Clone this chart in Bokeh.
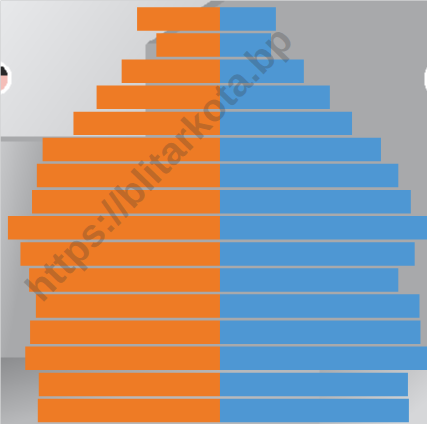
import numpy as np
from bokeh.plotting import figure
from bokeh.models import Range1d
from bokeh.core.properties import value
from bokeh.embed import file_html
from bokeh.resources import INLINE

# ---- data (top row to bottom row) ----
age_groups = ["75+", "70-74", "65-69", "60-64", "55-59", "50-54", "45-49", "40-44",
              "35-39", "30-34", "25-29", "20-24", "15-19", "10-14", "5-9", "0-4"]
left_values = [86, 66, 102, 128, 152, 184, 190, 195, 220, 207, 198, 191, 197, 202, 188, 189]
right_values = [58, 53, 87, 114, 137, 167, 185, 198, 218, 202, 185, 207, 208, 217, 195, 196]
watermark = "https://blitarkota.bp"

ORANGE = "#EE7B25"
BLUE = "#4E97D3"

n = len(age_groups)
ypos = [n - 1 - i for i in range(n)]

# ---- decorative background (reference-pixel grid) ----
W, H = 443, 440
yy, xx = np.mgrid[0:H, 0:W].astype(float)
base = np.array([168, 169, 171], float)
img = np.ones((H, W, 3)) * base

def lerp(c1, c2, t):
    t = np.clip(t, 0, 1)[..., None]
    return np.array(c1, float) * (1 - t) + np.array(c2, float) * t

# top-left light panel
light_mask = (yy < 141) & (xx < np.maximum(218 - 1.5 * yy, 150))
lt = lerp([232, 233, 235], [206, 207, 209], (xx / 150) * 0.6 + (yy / 140) * 0.4)
img[light_mask] = lt[light_mask]
# shadow band along fold
shadow = (yy < 45) & (xx >= 218 - 1.5 * yy) & (xx < 232 - 1.5 * yy)
img[shadow] = [150, 151, 153]
# left strip gradient
lmask = (yy >= 146) & (yy < 370)
lg = lerp([200, 201, 203], base, xx / 50 + (yy - 146) / 260)
img[lmask] = lg[lmask]
# bottom-left dark band
bmask = (yy >= 370)
bg = lerp([140, 141, 143], [184, 185, 187], (yy - 370) / 70 + xx / 300)
img[bmask] = bg[bmask]
# bottom-right light
rmask = (yy >= 372) & (xx > 330)
rg = lerp(base, [214, 215, 217], ((xx - 330) / 113) * 0.7 + ((yy - 372) / 68) * 0.5)
img[rmask] = rg[rmask]
# left edge badge
d = np.sqrt((xx + 8) ** 2 + (yy - 80) ** 2)
img[(d < 19)] = [255, 255, 255]
inner = d < 15
img[inner & (yy < 78)] = [40, 40, 40]
img[inner & (yy >= 78)] = [244, 190, 184]
# right edge white mark
d2 = np.sqrt(((xx - 449) / 10) ** 2 + ((yy - 81) / 16) ** 2)
img[d2 < 1] = [255, 255, 255]

rgba = np.empty((H, W), dtype=np.uint32)
view = rgba.view(dtype=np.uint8).reshape((H, W, 4))
view[..., 0] = img[..., 0].astype(np.uint8)
view[..., 1] = img[..., 1].astype(np.uint8)
view[..., 2] = img[..., 2].astype(np.uint8)
view[..., 3] = 255
rgba = rgba[::-1]

pitch = 27.09
y0 = -14.5 / pitch
y1 = y0 + H / pitch
x0 = -227.7
x1 = x0 + W

p = figure(width=427, height=424, output_backend="svg", toolbar_location=None,
           x_range=Range1d(x0, x1), y_range=Range1d(y0, y1), min_border=0)
p.axis.visible = False
p.grid.visible = False
p.outline_line_color = None
p.background_fill_color = "#a8a9ab"
p.border_fill_color = "#a8a9ab"

p.image_rgba(image=[rgba], x=x0, y=y0, dw=W, dh=H / pitch)

p.hbar(y=ypos, left=[-v for v in left_values], right=0, height=0.9,
       fill_color=ORANGE, line_color=None)
p.hbar(y=ypos, left=0, right=right_values, height=0.9,
       fill_color=BLUE, line_color=None)

p.text(x=[33 + x0], y=[(440 - 305) / pitch + y0], text=[watermark], angle=46, angle_units="deg",
       text_font=value("Liberation Sans"), text_font_style="bold", text_font_size="39px",
       text_color="#333333", text_alpha=0.25, text_baseline="alphabetic", text_align="left")

open("out.html", "w").write(file_html(p, INLINE))
